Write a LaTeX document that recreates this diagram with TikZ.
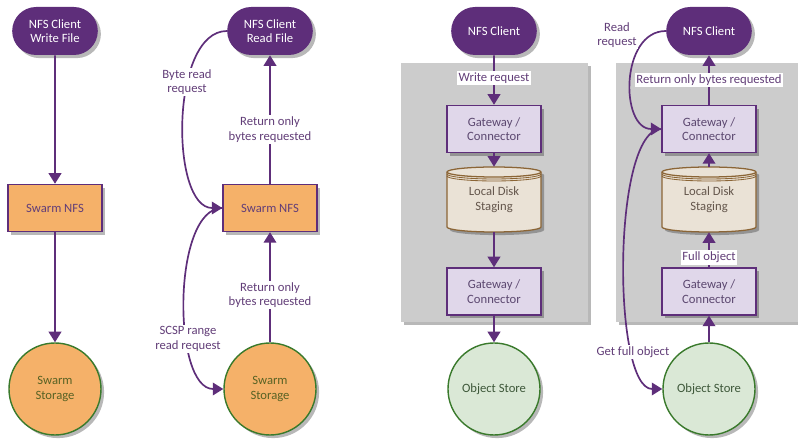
\documentclass[tikz,border=0pt]{standalone}
\usepackage{fontspec}
\setmainfont{Carlito}
\usetikzlibrary{shapes.misc,shadows,arrows.meta}
\definecolor{nfspurple}{RGB}{94,46,122}
\definecolor{nfslabel}{RGB}{98,62,120}
\definecolor{swarmorange}{RGB}{245,177,105}
\definecolor{swarmgreen}{RGB}{58,122,44}
\definecolor{swarmolive}{RGB}{88,98,36}
\definecolor{objfill}{RGB}{218,232,214}
\definecolor{objtext}{RGB}{62,88,58}
\definecolor{gwfill}{RGB}{224,215,234}
\definecolor{gwtext}{RGB}{92,72,112}
\definecolor{diskfill}{RGB}{234,226,214}
\definecolor{diskedge}{RGB}{139,101,54}
\definecolor{disktext}{RGB}{100,86,76}
\definecolor{panelgray}{RGB}{204,204,204}

\tikzset{
  softshadow/.style={drop shadow={shadow xshift=2.2pt, shadow yshift=-2.2pt, fill=black, opacity=0.28}},
  client/.style={rounded rectangle, fill=nfspurple, text=white, minimum width=23.75mm, minimum height=12mm, align=center, softshadow},
  swarmnfs/.style={rectangle, draw=nfspurple, line width=1pt, fill=swarmorange, text=nfslabel, minimum width=23.5mm, minimum height=11.75mm, softshadow},
  swarmstore/.style={circle, draw=swarmgreen, line width=1pt, fill=swarmorange, text=swarmolive, minimum size=23mm, align=center, softshadow},
  objstore/.style={circle, draw=swarmgreen, line width=1pt, fill=objfill, text=objtext, minimum size=23mm, softshadow},
  gateway/.style={rectangle, draw=nfspurple, line width=1pt, fill=gwfill, text=gwtext, minimum width=23.5mm, minimum height=11.75mm, align=center, softshadow},
  disklabel/.style={rectangle, text=disktext, minimum width=23.5mm, minimum height=16.25mm, align=center},
  diskline/.style={draw=diskedge, line width=0.9pt},
  panel/.style={fill=panelgray, softshadow},
  flow/.style={->, draw=nfspurple, line width=1.2pt},
  lbl/.style={fill=white, text=nfslabel, inner sep=1.2pt, align=center}
}

\begin{document}
\begin{tikzpicture}[x=0.25mm, y=0.25mm, font=\fontsize{9pt}{10.4pt}\selectfont,
  >={Triangle[length=7.5pt,width=9pt]}]
\useasboundingbox (0,0) rectangle (798,442);
% grey panels
\fill[panel] (401,120) rectangle (588,379);
\fill[panel] (616,120) rectangle (806,379);
% disk bodies
\foreach \dx in {494,709} {
  \draw[diskline, fill=diskfill, softshadow] (\dx-47,270) -- (\dx-47,215)
    arc[start angle=180, end angle=360, x radius=47, y radius=5] -- (\dx+47,270)
    arc[start angle=0, end angle=180, x radius=47, y radius=5] -- cycle;
  \draw[diskline] (\dx-47,270) arc[start angle=180, end angle=360, x radius=47, y radius=5];
  \draw[diskline, line width=0.6pt] (\dx-47,268) arc[start angle=180, end angle=360, x radius=47, y radius=5];
  \draw[diskline, line width=0.6pt] (\dx-47,266) arc[start angle=180, end angle=360, x radius=47, y radius=5];
}

\node[client] (writer) at (55,411) {NFS Client\\Write File};
\node[swarmnfs] (nfsA) at (55,234) {Swarm NFS};
\node[swarmstore] (storeA) at (55,53) {Swarm\\Storage};

\node[client] (reader) at (270,411) {NFS Client\\Read File};
\node[swarmnfs] (nfsB) at (270,234) {Swarm NFS};
\node[swarmstore] (storeB) at (270,53) {Swarm\\Storage};

\node[client] (clientC) at (494,411) {NFS Client};
\node[gateway] (gwC1) at (494,313) {Gateway /\\Connector};
\node[disklabel] (diskC) at (494,242.5) {Local Disk\\Staging};
\node[gateway] (gwC2) at (494,150.5) {Gateway /\\Connector};
\node[objstore] (objC) at (494,53) {Object Store};

\node[client] (clientD) at (709,411) {NFS Client};
\node[gateway] (gwD1) at (709,313) {Gateway /\\Connector};
\node[disklabel] (diskD) at (709,242.5) {Local Disk\\Staging};
\node[gateway] (gwD2) at (709,150.5) {Gateway /\\Connector};
\node[objstore] (objD) at (709,53) {Object Store};

% write path
\draw[flow] (writer) -- (nfsA);
\draw[flow] (nfsA) -- (storeA);

% swarm read path
\draw[flow] (reader.west) .. controls (170,411) and (170,234) .. (nfsB.west);
\draw[flow] (nfsB.west) .. controls (172,234) and (172,53) .. (storeB.west);
\draw[flow] (nfsB) -- node[lbl, pos=0.42] {Return only\\bytes requested} (reader);
\draw[flow] (storeB) -- node[lbl, pos=0.43] {Return only\\bytes requested} (nfsB);
\node[lbl] (byteLbl) at (187,360) {Byte read\\request};
\node[lbl] (scspLbl) at (188,103) {SCSP range\\read request};

% gateway write path
\draw[flow] (clientC) -- node[lbl, pos=0.46] {Write request} (gwC1);
\draw[flow] (gwC1) -- (diskC);
\draw[flow] (diskC) -- (gwC2);
\draw[flow] (gwC2) -- (objC);

% gateway read path
\draw[flow] (clientD.west) .. controls (620,411) and (620,313) .. (gwD1.west);
\draw[flow] (gwD1.west) .. controls (612,313) and (612,53) .. (objD.west);
\draw[flow] (gwD1) -- node[lbl] {Return only bytes requested} (clientD);
\draw[flow] (diskD) -- (gwD1);
\draw[flow] (gwD2) -- node[lbl, pos=0.28] {Full object} (diskD);
\draw[flow] (objD) -- (gwD2);
\node[lbl] (readLbl) at (617,407) {Read\\request};
\node[lbl] (getLbl) at (633,90) {Get full object};
\end{tikzpicture}
\end{document}
